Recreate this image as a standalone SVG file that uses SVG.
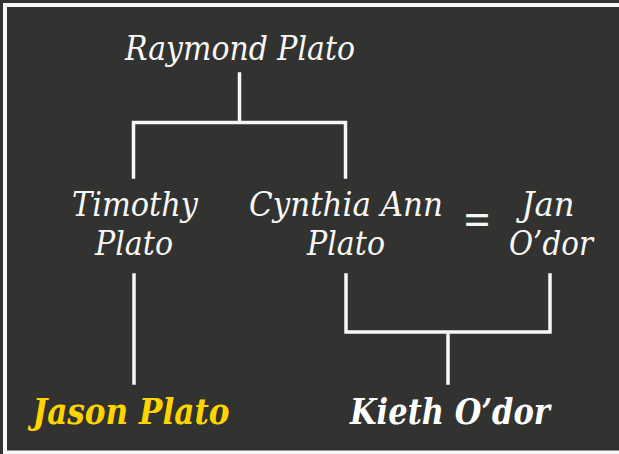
<svg xmlns="http://www.w3.org/2000/svg" width="619" height="454" viewBox="0 0 619 454">
<style>
.name{font-family:"DejaVu Serif","Liberation Serif",serif;font-style:italic;font-size:33px;fill:#f7f7f5;text-anchor:middle}
.child{font-family:"DejaVu Serif","Liberation Serif",serif;font-style:italic;font-weight:bold;font-size:35px;text-anchor:middle}
.line{fill:none;stroke:#f7f7f5;stroke-width:3.5;stroke-linecap:square}
</style>
<rect x="0" y="0" width="619" height="454" fill="#323230"/>
<rect x="5" y="5" width="620" height="447.5" fill="none" stroke="#f7f7f5" stroke-width="4"/>
<g id="connectors">
<path class="line" d="M239.5 74V122.5M133.5 177V122.5H345.5V177"/>
<path class="line" d="M134 275V383"/>
<path class="line" d="M346 275V332H550V275M448 332V383"/>
</g>
<g id="raymond"><text class="name" x="240" y="60" textLength="230" lengthAdjust="spacingAndGlyphs">Raymond Plato</text></g>
<g id="timothy"><text class="name" x="135" y="216" textLength="126" lengthAdjust="spacingAndGlyphs">Timothy</text><text class="name" x="134" y="255" textLength="78" lengthAdjust="spacingAndGlyphs">Plato</text></g>
<g id="cynthia"><text class="name" x="346" y="216" textLength="194" lengthAdjust="spacingAndGlyphs">Cynthia Ann</text><text class="name" x="346" y="255" textLength="78" lengthAdjust="spacingAndGlyphs">Plato</text></g>
<g id="marriage"><text x="477" y="234" font-family="DejaVu Serif,serif" font-size="42" fill="#f7f7f5" text-anchor="middle" textLength="29" lengthAdjust="spacingAndGlyphs">=</text></g>
<g id="jan"><text class="name" x="548" y="216" textLength="53" lengthAdjust="spacingAndGlyphs">Jan</text><text class="name" x="551" y="255" textLength="84" lengthAdjust="spacingAndGlyphs">O’dor</text></g>
<g id="jason"><text class="child" x="131" y="424" fill="#ffd500" textLength="197" lengthAdjust="spacingAndGlyphs">Jason Plato</text></g>
<g id="kieth"><text class="child" x="450" y="424" fill="#ffffff" textLength="200" lengthAdjust="spacingAndGlyphs">Kieth O’dor</text></g>
</svg>
